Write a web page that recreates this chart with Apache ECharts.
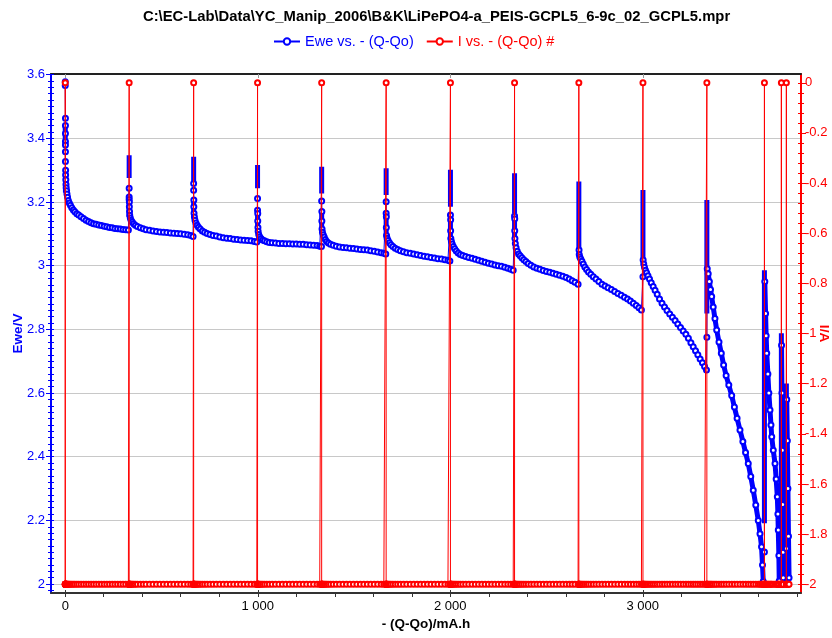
<!DOCTYPE html>
<html><head><meta charset="utf-8">
<script src="https://cdn.jsdelivr.net/npm/echarts@6/dist/echarts.min.js"></script>
<style>html,body{margin:0;padding:0;background:#fff}#c{width:832px;height:638px}</style>
</head><body><div id="c"></div>
<script>
// ---------------- data ----------------
const TITLE = 'C:\\EC-Lab\\Data\\YC_Manip_2006\\B&K\\LiPePO4-a_PEIS-GCPL5_6-9c_02_GCPL5.mpr';
const EWE_NAME = 'Ewe vs. - (Q-Qo)';
const I_NAME = 'I vs. - (Q-Qo) #';

// -(Q-Qo) at each interruption (rest / PEIS) in mA.h
const pulseQ = [0, 332, 667, 999, 1332, 1667, 2001, 2334, 2668, 3001, 3333, 3632, 3720, 3746];
// current levels, A
const I_DISCHARGE = -2;
const I_REST = 0;

// discharge steps [Q (mA.h), Ewe (V)]
const seg1 = [[0,3.578],[0,3.566],[1,3.463],[1,3.44],[1,3.415],[1,3.39],[1,3.379],[1,3.358],[1,3.327],[2,3.30],[2,3.285],[3,3.27],[4,3.255],[5,3.245],[7,3.235],[9,3.225],[12,3.215],[16,3.205],[21,3.197],[27,3.19],[34,3.182],[42,3.175],[50,3.169],[60,3.163],[70,3.159],[82,3.154],[95,3.148],[108,3.143],[121,3.139],[134,3.135],[147,3.132],[160,3.13],[174,3.128],[188,3.126],[202,3.124],[216,3.122],[230,3.12],[244,3.119],[258,3.117],[272,3.116],[286,3.115],[300,3.114],[314,3.113],[328,3.112]];
const seg2 = [[333,3.2],[333,3.185],[334,3.17],[335,3.158],[338,3.15],[342,3.143],[348,3.137],[355,3.132],[364,3.127],[375,3.123],[390,3.119],[405,3.116],[420,3.113],[438,3.111],[456,3.109],[474,3.107],[492,3.106],[510,3.105],[528,3.104],[546,3.103],[564,3.102],[582,3.101],[600,3.1],[618,3.099],[636,3.097],[652,3.095],[664,3.092]];
const seg3 = [[668,3.206],[668,3.185],[669,3.165],[671,3.153],[674,3.143],[679,3.134],[685,3.127],[692,3.121],[701,3.115],[712,3.109],[724,3.105],[737,3.101],[752,3.098],[768,3.095],[785,3.093],[803,3.09],[821,3.088],[839,3.086],[857,3.085],[875,3.083],[893,3.082],[911,3.081],[929,3.08],[947,3.079],[965,3.078],[982,3.076],[995,3.074]];
const seg4 = [[1000,3.164],[1000,3.14],[1001,3.12],[1002,3.108],[1005,3.098],[1010,3.091],[1017,3.085],[1025,3.081],[1035,3.078],[1047,3.075],[1060,3.073],[1075,3.072],[1092,3.071],[1110,3.07],[1128,3.07],[1146,3.069],[1164,3.069],[1182,3.068],[1200,3.068],[1218,3.067],[1236,3.067],[1254,3.066],[1272,3.065],[1290,3.064],[1308,3.063],[1322,3.061],[1331,3.06]];
const seg5 = [[1333,3.17],[1333,3.14],[1334,3.115],[1336,3.105],[1340,3.097],[1345,3.09],[1351,3.082],[1358,3.076],[1367,3.071],[1378,3.067],[1392,3.064],[1408,3.061],[1425,3.059],[1443,3.057],[1461,3.056],[1479,3.055],[1497,3.054],[1515,3.052],[1533,3.051],[1551,3.05],[1569,3.049],[1587,3.047],[1605,3.045],[1623,3.043],[1641,3.041],[1655,3.039],[1665,3.037]];
const seg6 = [[1668,3.154],[1668,3.12],[1669,3.095],[1672,3.086],[1677,3.079],[1684,3.072],[1692,3.066],[1702,3.06],[1714,3.055],[1727,3.051],[1741,3.047],[1757,3.044],[1774,3.041],[1792,3.039],[1810,3.037],[1828,3.034],[1846,3.032],[1864,3.03],[1882,3.028],[1900,3.026],[1918,3.024],[1936,3.022],[1954,3.021],[1972,3.019],[1988,3.017],[1998,3.015]];
const seg7 = [[2002,3.144],[2002,3.11],[2003,3.085],[2006,3.076],[2010,3.068],[2016,3.06],[2023,3.053],[2031,3.046],[2041,3.04],[2052,3.035],[2065,3.032],[2080,3.029],[2096,3.026],[2113,3.023],[2130,3.02],[2147,3.017],[2164,3.014],[2181,3.011],[2198,3.008],[2215,3.005],[2232,3.002],[2249,3.0],[2266,2.998],[2283,2.995],[2299,2.992],[2314,2.989],[2327,2.986]];
const seg8 = [[2335,3.147],[2335,3.11],[2336,3.085],[2338,3.07],[2342,3.056],[2348,3.045],[2355,3.037],[2363,3.031],[2372,3.025],[2382,3.019],[2393,3.013],[2405,3.007],[2419,3.001],[2434,2.996],[2450,2.992],[2466,2.989],[2483,2.985],[2500,2.982],[2517,2.979],[2534,2.976],[2551,2.973],[2568,2.97],[2585,2.967],[2602,2.963],[2618,2.958],[2633,2.953],[2648,2.948],[2664,2.942]];
const seg9 = [[2669,3.049],[2670,3.035],[2673,3.027],[2678,3.021],[2684,3.014],[2691,3.005],[2699,2.996],[2708,2.988],[2718,2.98],[2730,2.973],[2743,2.965],[2757,2.958],[2772,2.95],[2788,2.942],[2804,2.936],[2820,2.931],[2837,2.925],[2854,2.919],[2871,2.913],[2888,2.907],[2905,2.901],[2921,2.895],[2936,2.889],[2951,2.882],[2966,2.875],[2980,2.868],[2993,2.861]];
const seg10 = [[3002,3.018],[3005,3.005],[3009,2.995],[3014,2.986],[3020,2.978],[3027,2.968],[3035,2.958],[3044,2.946],[3054,2.935],[3064,2.923],[3075,2.91],[3087,2.895],[3100,2.882],[3113,2.87],[3126,2.859],[3140,2.848],[3154,2.838],[3168,2.828],[3182,2.817],[3196,2.806],[3210,2.795],[3224,2.785],[3237,2.772],[3250,2.758],[3262,2.745],[3274,2.733],[3286,2.72],[3298,2.707],[3310,2.695],[3321,2.683],[3331,2.672]];
const seg11 = [[3335,2.99],[3340,2.975],[3346,2.95],[3352,2.925],[3358,2.903],[3366,2.87],[3375,2.834],[3384,2.798],[3396,2.76],[3408,2.725],[3420,2.688],[3433,2.655],[3447,2.625],[3462,2.592],[3476,2.556],[3490,2.521],[3505,2.484],[3520,2.448],[3534,2.413],[3548,2.379],[3561,2.338],[3574,2.295],[3587,2.248],[3600,2.2],[3609,2.158],[3617,2.117],[3622,2.06],[3626,2.008]];
const seg12 = [[3634,2.95],[3638,2.85],[3641,2.78],[3644,2.725],[3650,2.66],[3655,2.6],[3661,2.547],[3666,2.5],[3670,2.463],[3678,2.42],[3687,2.379],[3693,2.33],[3699,2.274],[3702,2.22],[3704,2.17],[3707,2.09],[3709,2.01]];
const seg13 = [[3721,2.75],[3723,2.6],[3725,2.42],[3727,2.25],[3729,2.1],[3730,2.02]];
const seg14 = [[3748,2.58],[3751,2.45],[3754,2.3],[3757,2.15],[3760,2.02]];
const steps = [seg1, seg2, seg3, seg4, seg5, seg6, seg7, seg8, seg9, seg10, seg11, seg12, seg13, seg14];

// isolated Ewe points recorded during rest / PEIS [Q, Ewe]
const relaxPoints = [[332,3.243],[332,3.216],[332,3.208],[667,3.258],[667,3.237],[999,3.211],[999,3.174],[1332,3.203],[1667,3.201],[1667,3.165],[2001,3.159],[2334,3.156],[3001,2.965],[3333,2.775],[3632,2.101],[3746,2.112]];
// dense rest / PEIS Ewe clusters [Q, Ewe low, Ewe high]
const relaxBands = [[0,3.56,3.58],[0,3.39,3.44],[1,3.23,3.30],[332,3.275,3.347],[332,3.153,3.20],[667,3.263,3.342],[667,3.153,3.206],[999,3.243,3.316],[999,3.112,3.164],[1332,3.227,3.311],[1332,3.107,3.170],[1667,3.222,3.306],[1667,3.091,3.154],[2001,3.185,3.301],[2001,3.081,3.144],[2334,3.165,3.290],[2334,3.081,3.147],[2668,3.049,3.264],[3001,3.023,3.238],[3333,2.850,3.206],[3632,2.191,2.986],[3720,2.008,2.788],[3746,2.000,2.630]];

// axes
const xTickValues = [0, 1000, 2000, 3000];
const xTickLabels = ['0', '1 000', '2 000', '3 000'];
const eweTickValues = [2, 2.2, 2.4, 2.6, 2.8, 3, 3.2, 3.4, 3.6];
const eweTickLabels = ['2', '2.2', '2.4', '2.6', '2.8', '3', '3.2', '3.4', '3.6'];
const iTickValues = [0, -0.2, -0.4, -0.6, -0.8, -1, -1.2, -1.4, -1.6, -1.8, -2];
const iTickLabels = ['0', '-0.2', '-0.4', '-0.6', '-0.8', '-1', '-1.2', '-1.4', '-1.6', '-1.8', '-2'];

// ---------------- build ----------------
const X_MIN = -74, X_MAX = 3822, EWE_MIN = 1.972, EWE_MAX = 3.602, I_MIN = -2.035, I_MAX = 0.035;
const BLUE = '#0000ff', RED = '#ff0000', FONT = 'Arial, "Liberation Sans", sans-serif';

function range(a, b, step) { const out = []; const n = Math.round((b - a) / step); for (let i = 0; i <= n; i++) out.push(+(a + i * step).toFixed(4)); return out; }
const xMinor = range(0, 3800, 200);
const eweMinor = range(1.98, 3.6, 0.02);
const iMinor = range(-2, 0, 0.04);
function labelOf(values, labels) { return v => { for (let i = 0; i < values.length; i++) if (Math.abs(values[i] - v) < 1e-6) return labels[i]; return ''; }; }

const eweData = [];
const iData = [];
steps.forEach((seg, k) => {
  const q0 = pulseQ[k];
  if (k > 0) relaxPoints.filter(p => p[0] === q0).forEach(p => eweData.push(p));
  seg.forEach(p => eweData.push(p));
  iData.push([q0, I_DISCHARGE], [q0, I_REST], [q0, I_DISCHARGE]);
  seg.forEach(p => iData.push([p[0], I_DISCHARGE]));
});

const bandSeries = relaxBands.map(b => ({
  type: 'line', xAxisIndex: 0, yAxisIndex: 0, data: [[b[0], b[1]], [b[0], b[2]]],
  symbol: 'none', silent: true, z: 2, lineStyle: { color: BLUE, width: 5, cap: 'butt' }
}));
const steepSeries = [seg11, seg12, seg13, seg14].map(s => ({
  type: 'line', xAxisIndex: 0, yAxisIndex: 0, data: s,
  symbol: 'none', silent: true, z: 2, lineStyle: { color: BLUE, width: 5 }
}));

function overlayY(pos, min, max, vals, inside, color, len) {
  return { type: 'value', position: pos, min, max, axisLine: { show: false, onZero: false },
    axisTick: { show: true, customValues: vals, inside, length: len, lineStyle: { color, width: 1 } },
    axisLabel: { show: false }, splitLine: { show: false } };
}

const option = {
  animation: false,
  backgroundColor: '#ffffff',
  title: { text: TITLE, left: 138, top: 4, textStyle: { fontSize: 14.8, fontWeight: 'bold', color: '#000', fontFamily: FONT } },
  legend: {
    top: 29, left: 268, itemWidth: 26, itemHeight: 8, itemGap: 12,
    textStyle: { fontSize: 14.5, fontFamily: FONT },
    data: [{ name: EWE_NAME, textStyle: { color: BLUE } }, { name: I_NAME, textStyle: { color: RED } }]
  },
  grid: { left: 51, right: 31, top: 74, bottom: 45, containLabel: false, outerBoundsMode: 'none' },
  xAxis: [
    { type: 'value', position: 'bottom', min: X_MIN, max: X_MAX,
      name: '- (Q-Qo)/mA.h', nameLocation: 'middle', nameGap: 24, nameMoveOverlap: false,
      nameTextStyle: { color: '#000', fontWeight: 'bold', fontSize: 13.5, fontFamily: FONT },
      axisLine: { show: true, onZero: false, lineStyle: { color: '#333', width: 2 } },
      axisTick: { show: true, customValues: xMinor, length: 4, lineStyle: { color: '#333', width: 1 } },
      axisLabel: { customValues: xTickValues, formatter: labelOf(xTickValues, xTickLabels), color: '#000', fontSize: 13, fontFamily: FONT, margin: 7 },
      splitLine: { show: false } },
    { type: 'value', position: 'top', min: X_MIN, max: X_MAX,
      axisLine: { show: true, onZero: false, lineStyle: { color: '#222', width: 2 } },
      axisTick: { show: true, customValues: xTickValues, inside: true, length: 4, lineStyle: { color: '#999' } },
      axisLabel: { show: false }, splitLine: { show: false } },
    { type: 'value', position: 'bottom', min: X_MIN, max: X_MAX,
      axisLine: { show: false, onZero: false },
      axisTick: { show: true, customValues: xTickValues, inside: true, length: 3, lineStyle: { color: '#333' } },
      axisLabel: { show: false }, splitLine: { show: false } }
  ],
  yAxis: [
    { type: 'value', position: 'left', min: EWE_MIN, max: EWE_MAX,
      name: 'Ewe/V', nameLocation: 'middle', nameGap: 26, nameMoveOverlap: false,
      nameTextStyle: { color: BLUE, fontWeight: 'bold', fontSize: 13.5, fontFamily: FONT },
      axisLine: { show: true, onZero: false, lineStyle: { color: BLUE, width: 2 } },
      axisTick: { show: true, customValues: eweTickValues, length: 5, lineStyle: { color: BLUE, width: 1 } },
      axisLabel: { customValues: eweTickValues, formatter: labelOf(eweTickValues, eweTickLabels), color: BLUE, fontSize: 13, fontFamily: FONT, margin: 6 },
      splitLine: { show: true, lineStyle: { color: '#c8c8c8', width: 1 } } },
    { type: 'value', position: 'right', min: I_MIN, max: I_MAX,
      name: 'I/A', nameLocation: 'middle', nameGap: 16, nameRotate: -90, nameMoveOverlap: false,
      nameTextStyle: { color: RED, fontWeight: 'bold', fontSize: 13.5, fontFamily: FONT },
      axisLine: { show: true, onZero: false, lineStyle: { color: RED, width: 2 } },
      axisTick: { show: true, customValues: iTickValues, length: 5, lineStyle: { color: RED, width: 1 } },
      axisLabel: { customValues: iTickValues, formatter: labelOf(iTickValues, iTickLabels), color: RED, fontSize: 13, fontFamily: FONT, margin: 4 },
      splitLine: { show: false } },
    overlayY('left', EWE_MIN, EWE_MAX, eweMinor, false, BLUE, 3),
    overlayY('left', EWE_MIN, EWE_MAX, eweMinor, true, BLUE, 3),
    overlayY('right', I_MIN, I_MAX, iMinor, false, RED, 3),
    overlayY('right', I_MIN, I_MAX, iMinor, true, RED, 3)
  ],
  series: [
    { name: EWE_NAME, type: 'line', xAxisIndex: 0, yAxisIndex: 0, data: eweData,
      symbol: 'emptyCircle', symbolSize: 5, showAllSymbol: true, z: 2,
      lineStyle: { color: BLUE, width: 1 }, itemStyle: { color: BLUE, borderColor: BLUE, borderWidth: 1 } },
    ...bandSeries,
    ...steepSeries,
    { name: I_NAME, type: 'line', xAxisIndex: 0, yAxisIndex: 1, data: iData,
      symbol: 'emptyCircle', symbolSize: 5, showAllSymbol: true, z: 3,
      lineStyle: { color: RED, width: 1 }, itemStyle: { color: RED, borderColor: RED, borderWidth: 1.5 } }
  ]
};
const chart = echarts.init(document.getElementById('c'));
chart.setOption(option);
</script></body></html>
